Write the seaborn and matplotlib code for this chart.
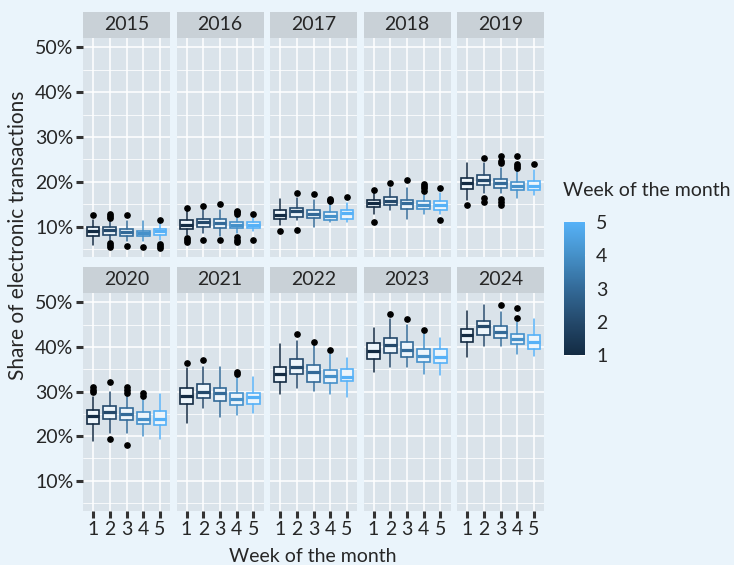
import numpy as np
import pandas as pd
import matplotlib
matplotlib.use("Agg")
import matplotlib.pyplot as plt
import seaborn as sns
from matplotlib.colors import LinearSegmentedColormap, Normalize
from matplotlib.cm import ScalarMappable
from matplotlib.patches import Rectangle

# ---------------- data (box statistics, in %) ----------------
YEARS = [2015, 2016, 2017, 2018, 2019, 2020, 2021, 2022, 2023, 2024]
WEEKS = [1, 2, 3, 4, 5]

Q1 = [[7.84, 8.07, 7.85, 7.85, 8.07],
      [9.55, 9.85, 9.6, 9.6, 9.6],
      [11.7, 12.2, 11.85, 11.5, 11.7],
      [14.3, 14.7, 14.0, 14.0, 13.8],
      [18.4, 19.2, 18.6, 18.2, 18.2],
      [22.8, 23.8, 23.6, 22.8, 22.6],
      [27.3, 28.5, 27.8, 27.0, 27.3],
      [32.2, 33.9, 32.2, 31.8, 32.4],
      [37.3, 38.6, 37.8, 36.7, 36.3],
      [41.2, 42.7, 41.9, 40.6, 39.6]]

MED = [[8.9, 9.3, 8.7, 8.45, 8.95],
       [10.45, 11.05, 10.7, 10.3, 10.3],
       [12.65, 13.4, 12.9, 12.3, 13.0],
       [15.3, 15.6, 15.3, 14.9, 14.7],
       [19.7, 20.4, 19.7, 19.0, 19.1],
       [24.6, 25.4, 24.9, 23.9, 23.9],
       [29.0, 30.0, 29.6, 28.4, 28.7],
       [33.9, 35.4, 34.4, 33.4, 33.2],
       [39.0, 40.4, 39.3, 38.0, 37.8],
       [42.7, 44.8, 43.3, 41.7, 41.1]]

Q3 = [[9.85, 9.85, 9.55, 9.1, 9.55],
      [11.4, 11.7, 11.7, 10.95, 10.95],
      [13.7, 14.15, 13.7, 13.2, 13.8],
      [16.0, 16.6, 16.0, 15.8, 15.6],
      [20.8, 21.4, 20.6, 19.9, 20.1],
      [25.8, 26.7, 26.3, 25.3, 25.6],
      [30.7, 31.7, 30.8, 29.7, 29.7],
      [35.6, 37.4, 35.9, 34.9, 35.0],
      [40.9, 42.1, 41.0, 39.5, 39.5],
      [44.1, 45.9, 44.6, 42.8, 42.6]]

WHISK_LO = [[5.8, 6.9, 6.7, 6.7, 7.1],
            [8.2, 8.6, 7.85, 8.6, 8.95],
            [10.4, 11.55, 9.9, 10.95, 10.95],
            [12.7, 13.8, 11.7, 12.9, 12.7],
            [16.0, 17.5, 17.5, 16.4, 17.1],
            [18.9, 20.6, 20.6, 20.0, 19.3],
            [23.0, 26.4, 24.3, 24.7, 25.2],
            [29.5, 30.8, 30.1, 29.5, 28.7],
            [34.4, 35.6, 35.6, 33.9, 33.6],
            [37.8, 40.1, 40.1, 38.5, 38.0]]

WHISK_HI = [[11.55, 11.2, 11.3, 11.2, 10.8],
            [13.4, 13.8, 13.8, 12.3, 11.9],
            [16.2, 16.4, 16.0, 15.3, 15.3],
            [17.5, 18.6, 18.6, 17.1, 17.5],
            [24.1, 24.1, 23.0, 22.3, 22.7],
            [28.7, 29.8, 29.5, 28.7, 29.5],
            [35.3, 35.4, 35.6, 33.2, 33.3],
            [40.6, 41.3, 40.6, 38.5, 37.6],
            [44.2, 46.2, 45.0, 43.2, 42.1],
            [48.0, 49.3, 47.8, 45.6, 46.2]]

OUTLIERS = [[[12.6], [11.8, 12.3, 12.8, 5.4, 5.9, 6.3], [12.6, 5.6], [5.4], [11.5, 5.3, 5.7, 6.1]],
            [[14.2, 7.4, 6.9, 6.5], [14.5, 7.1], [15.0, 6.9], [12.8, 13.2, 13.5, 7.7, 7.1, 6.6], [12.7, 7.0]],
            [[9.0], [17.5, 9.2], [17.3], [15.6, 15.9, 16.2], [16.5]],
            [[18.2, 11.0], [19.8], [20.3], [18.0, 18.5, 19.0, 19.4], [18.7, 11.5]],
            [[14.9], [25.4, 16.3, 15.5], [25.8, 24.6, 24.1, 16.2, 15.5, 14.9], [25.8, 24.0, 23.5, 23.0], [23.9]],
            [[29.8, 30.4, 31.0], [32.2, 19.3], [29.7, 30.3, 31.0, 18.0], [29.0, 29.6], []],
            [[36.4], [37.1], [], [33.9, 34.3], []],
            [[], [42.8], [41.2], [39.4], []],
            [[], [47.4], [46.2], [43.8], []],
            [[], [], [49.4], [46.4, 48.7], []]]

# ---------------- styling ----------------
BG = "#EAF4FB"
PANEL = "#DAE3EA"
STRIP = "#C9D1D7"
BOX_FILL = "#EDF5FB"
TEXT = "#262626"
W, H = 734, 565

sns.set_theme(style="darkgrid", rc={
    "figure.facecolor": BG,
    "axes.facecolor": PANEL,
    "grid.color": "white",
    "axes.edgecolor": PANEL,
})
plt.rcParams["font.family"] = ["Lato", "DejaVu Sans"]

# ggplot-like continuous blue gradient (low -> high)
cmap = LinearSegmentedColormap.from_list("gg", ["#132B43", "#24496B", "#336A98", "#4590C8", "#56B1F7"])
norm = Normalize(vmin=1, vmax=5)

rows = []
for i, yr in enumerate(YEARS):
    for j, wk in enumerate(WEEKS):
        rows.append(dict(year=yr, week=wk, q1=Q1[i][j], med=MED[i][j], q3=Q3[i][j],
                         wlo=WHISK_LO[i][j], whi=WHISK_HI[i][j], fliers=OUTLIERS[i][j]))
df = pd.DataFrame(rows)


def draw_boxes(data, **kws):
    ax = plt.gca()
    for _, r in data.iterrows():
        col = cmap(norm(r["week"]))
        stats = [dict(med=r["med"], q1=r["q1"], q3=r["q3"], whislo=r["wlo"],
                      whishi=r["whi"], fliers=np.array(r["fliers"]))]
        ax.bxp(stats, positions=[r["week"]], widths=0.75, patch_artist=True,
               showcaps=False, manage_ticks=False,
               boxprops=dict(facecolor=BOX_FILL, edgecolor=col, linewidth=1.2),
               whiskerprops=dict(color=col, linewidth=1.1),
               medianprops=dict(color=col, linewidth=2.3, solid_capstyle="butt"),
               flierprops=dict(marker="o", markerfacecolor="black", markeredgecolor="black",
                               markersize=3.8, linestyle="none"))


g = sns.FacetGrid(df, col="year", col_wrap=5, sharex=True, sharey=True,
                  despine=False, height=2.5, aspect=0.4)
g.map_dataframe(draw_boxes)
fig = g.figure
fig.set_size_inches(W / 100, H / 100)
fig.set_dpi(100)
g.set_titles("")
g.set_axis_labels("", "")


def px_rect(x0, y0, x1, y1):
    return [x0 / W, 1 - y1 / H, (x1 - x0) / W, (y1 - y0) / H]


row_panel = [(38, 257), (293, 511)]
row_strip = [(12, 38), (266.5, 293)]

for k, ax in enumerate(g.axes.flat):
    r, c = divmod(k, 5)
    x0 = 83 + c * 93.5
    x1 = x0 + 87
    ax.set_position(px_rect(x0, row_panel[r][0], x1, row_panel[r][1]))
    ax.set_xlim(0.4, 5.6)
    ax.set_ylim(3.2, 52.1)
    ax.set_xticks(WEEKS)
    ax.set_yticks([10, 20, 30, 40, 50])
    ax.set_yticks([5, 15, 25, 35, 45], minor=True)
    ax.grid(which="major", color="white", linewidth=1.1)
    ax.grid(which="minor", axis="y", color="white", linewidth=0.55)
    ax.set_axisbelow(True)
    for s in ax.spines.values():
        s.set_visible(False)
    ax.tick_params(which="minor", length=0)
    ax.tick_params(axis="both", which="major", length=5, width=2.2, color="#333333",
                   labelsize=14, labelcolor=TEXT, pad=2)
    if c == 0:
        ax.set_yticklabels([f"{v}%" for v in [10, 20, 30, 40, 50]])
        ax.tick_params(axis="y", left=True, labelleft=True)
    else:
        ax.tick_params(axis="y", left=False, labelleft=False)
    if r == 1:
        ax.set_xticklabels([str(w) for w in WEEKS])
        ax.tick_params(axis="x", bottom=True, labelbottom=True)
    else:
        ax.tick_params(axis="x", bottom=False, labelbottom=False)

    # facet strip
    sx = px_rect(x0, row_strip[r][0], x1, row_strip[r][1])
    fig.patches.append(Rectangle((sx[0], sx[1]), sx[2], sx[3], transform=fig.transFigure,
                                 facecolor=STRIP, edgecolor="none", zorder=0))
    fig.text(sx[0] + sx[2] / 2, sx[1] + sx[3] / 2, str(YEARS[k]), ha="center", va="center",
             fontsize=14, color=TEXT)

# axis titles
fig.text(313 / W, 1 - 556 / H, "Week of the month", ha="center", va="center",
         fontsize=14, color=TEXT)
fig.text(18 / W, 1 - 235 / H, "Share of electronic transactions", ha="center", va="center",
         rotation=90, fontsize=15, color=TEXT)

# colour legend
cax = fig.add_axes(px_rect(564, 222, 585, 355))
cb = fig.colorbar(ScalarMappable(norm=norm, cmap=cmap), cax=cax, ticks=WEEKS)
cb.outline.set_visible(False)
cax.tick_params(direction="in", color="white", length=4, width=1,
                left=True, right=True, labelsize=14, labelcolor=TEXT, pad=8)
fig.text(563 / W, 1 - 191 / H, "Week of the month", ha="left", va="center",
         fontsize=14, color=TEXT)

fig.savefig("out.png", dpi=100, facecolor=BG)
